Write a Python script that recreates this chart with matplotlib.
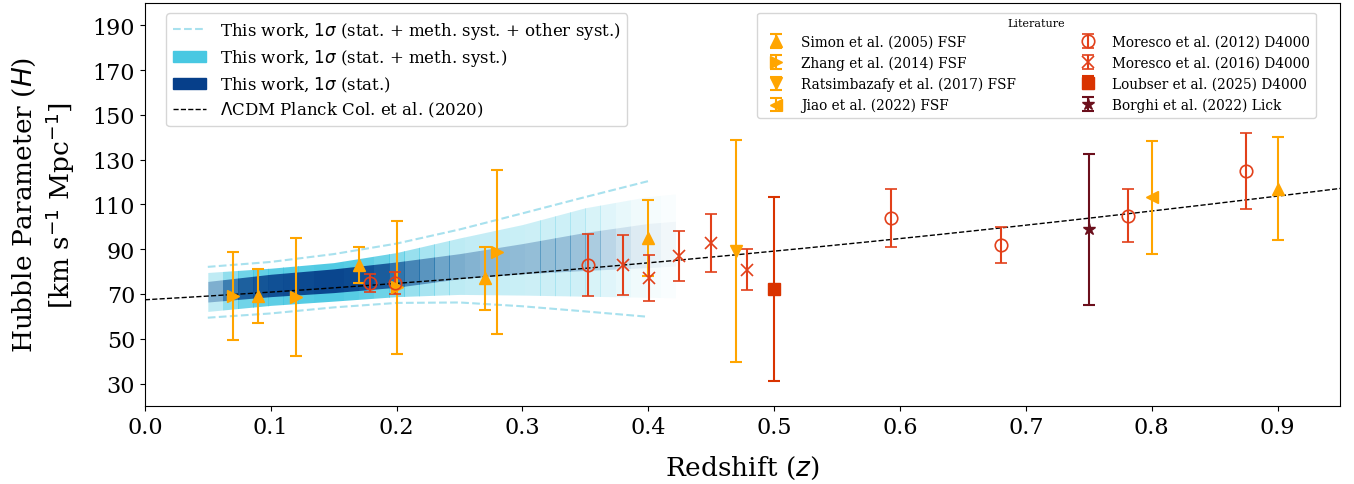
"""
H(z) compilation: this work (banded) vs literature cosmic-chronometer points
"""

import numpy as np
import matplotlib.pyplot as plt
from matplotlib.lines import Line2D
from matplotlib.patches import Patch, Rectangle

plt.rcParams['font.family'] = 'DejaVu Serif'
plt.rcParams['mathtext.fontset'] = 'dejavusans'

# --- this work: 1 sigma envelopes ---
z_band = [0.05, 0.10, 0.15, 0.20, 0.25, 0.30, 0.35, 0.40, 0.422]
stat_hi = [75.6, 78.8, 81.2, 84.3, 88.0, 92.5, 97.5, 101.5, 102.5]
stat_lo = [66.4, 68.8, 70.6, 73.0, 76.8, 79.0, 80.5, 81.8, 82.5]
meth_hi = [79.6, 81.5, 84.0, 88.5, 95.0, 101.0, 108.5, 113.5, 114.7]
meth_lo = [62.2, 64.9, 66.8, 68.8, 69.8, 69.5, 69.0, 68.5, 68.3]

z_tot = [0.05, 0.10, 0.15, 0.20, 0.25, 0.30, 0.35, 0.40]
tot_hi = [82.1, 84.3, 87.8, 92.5, 98.8, 106.0, 113.3, 120.4]
tot_lo = [59.4, 61.3, 64.0, 66.0, 66.2, 64.5, 62.2, 59.8]

# opacity of each redshift slice of the band (slices of width 0.012 from z=0.05)
seg_alpha = [0.35, 0.6, 0.78, 0.85, 0.88, 0.9, 0.92, 0.95, 0.95, 0.92,
             0.88, 0.8, 0.66, 0.56, 0.48, 0.4, 0.36, 0.33, 0.31, 0.3,
             0.29, 0.28, 0.28, 0.27, 0.26, 0.21, 0.17, 0.12, 0.08, 0.05, 0.03]

# --- literature ---
simon_z = [0.09, 0.17, 0.27, 0.40, 0.90]
simon_H = [69, 83, 77, 95, 117]
simon_e = [12, 8, 14, 17, 23]

zhang_z = [0.07, 0.12, 0.20, 0.28]
zhang_H = [69.0, 68.6, 72.9, 88.8]
zhang_e = [19.6, 26.2, 29.6, 36.6]

rats_z = [0.47]
rats_H = [89]
rats_e = [49.6]

jiao_z = [0.80]
jiao_H = [113.1]
jiao_e = [25.2]

mor12_z = [0.179, 0.199, 0.352, 0.593, 0.68, 0.781, 0.875]
mor12_H = [75, 75, 83, 104, 92, 105, 125]
mor12_e = [4, 5, 14, 13, 8, 12, 17]

mor16_z = [0.3802, 0.4004, 0.4247, 0.4497, 0.4783]
mor16_H = [83.0, 77.0, 87.1, 92.8, 80.9]
mor16_e = [13.5, 10.2, 11.2, 12.9, 9.0]

loub_z = [0.50]
loub_H = [72.1]
loub_e = [41.1]

borghi_z = [0.75]
borghi_H = [98.8]
borghi_e = [33.6]

# Planck 2020 LCDM
H0 = 67.4
Om = 0.315

cyan = '#48c8e2'
dark = '#063f8a'
light = '#a8e1ee'
orange = '#ffa500'
red = '#e2401a'
red2 = '#d93300'
maroon = '#6b0f1c'

fig, ax = plt.subplots(figsize=(13.54, 4.85), dpi=100)
fig.subplots_adjust(left=0.107, right=0.990, top=0.992, bottom=0.161)

width = 0.012
for i, a in enumerate(seg_alpha):
    z0 = 0.05 + i * width
    for lo, hi, c in [(meth_lo, meth_hi, cyan), (stat_lo, stat_hi, dark)]:
        p = ax.fill_between(z_band, lo, hi, color=c, alpha=a, lw=0, zorder=1)
        p.set_clip_path(Rectangle((z0, 0), width - 0.0004, 300,
                                  transform=ax.transData))

ax.plot(z_tot, tot_hi, ls='--', color=light, lw=1.5, zorder=2)
ax.plot(z_tot, tot_lo, ls='--', color=light, lw=1.5, zorder=2)

zz = np.linspace(0, 0.95, 200)
ax.plot(zz, H0 * np.sqrt(Om * (1 + zz) ** 3 + 1 - Om), 'k--', lw=1, zorder=3)

kw = dict(ms=9, capsize=4.5, elinewidth=1.5, capthick=1.5, zorder=4)
e1 = ax.errorbar(simon_z, simon_H, yerr=simon_e, fmt='^', color=orange,
                 label='Simon et al. (2005) FSF', **kw)
e2 = ax.errorbar(zhang_z, zhang_H, yerr=zhang_e, fmt='>', color=orange,
                 label='Zhang et al. (2014) FSF', **kw)
e3 = ax.errorbar(rats_z, rats_H, yerr=rats_e, fmt='v', color=orange,
                 label='Ratsimbazafy et al. (2017) FSF', **kw)
e4 = ax.errorbar(jiao_z, jiao_H, yerr=jiao_e, fmt='<', color=orange,
                 label='Jiao et al. (2022) FSF', **kw)
e5 = ax.errorbar(mor12_z, mor12_H, yerr=mor12_e, fmt='o', color=red,
                 mfc='none', mew=1.2, label='Moresco et al. (2012) D4000', **kw)
e6 = ax.errorbar(mor16_z, mor16_H, yerr=mor16_e, fmt='x', color=red,
                 mew=1.2, label='Moresco et al. (2016) D4000', **kw)
e7 = ax.errorbar(loub_z, loub_H, yerr=loub_e, fmt='s', color=red2,
                 label='Loubser et al. (2025) D4000', **dict(kw, ms=8))
e8 = ax.errorbar(borghi_z, borghi_H, yerr=borghi_e, fmt='*', color=maroon,
                 label='Borghi et al. (2022) Lick', **kw)

ax.set_xlim(0, 0.95)
ax.set_ylim(20, 200)
ax.set_xticks(np.arange(0, 0.95, 0.1))
ax.set_yticks(np.arange(30, 200, 20))
ax.tick_params(labelsize=16)
ax.set_xlabel('Redshift ($z$)', fontsize=19, labelpad=12)
ax.set_ylabel('Hubble Parameter ($H$)\n[km s$^{-1}$ Mpc$^{-1}$]', fontsize=19,
              labelpad=11)

work_handles = [
    Line2D([], [], ls='--', color=light, lw=1.5),
    Patch(color=cyan),
    Patch(color=dark),
    Line2D([], [], ls='--', color='k', lw=1),
]
work_labels = [
    r'This work, $1\sigma$ (stat. + meth. syst. + other syst.)',
    r'This work, $1\sigma$ (stat. + meth. syst.)',
    r'This work, $1\sigma$ (stat.)',
    r'$\Lambda$CDM Planck Col. et al. (2020)',
]
leg1 = ax.legend(work_handles, work_labels, loc='upper left',
                 bbox_to_anchor=(0.011, 0.995), fontsize=12, labelspacing=0.38)
ax.add_artist(leg1)

ax.legend(handles=[e1, e2, e3, e4, e5, e6, e7, e8], ncol=2, loc='upper right',
          bbox_to_anchor=(0.985, 0.993), fontsize=9.8, title='Literature',
          title_fontsize=8, columnspacing=4.3, labelspacing=0.5)

plt.savefig('out.png', dpi=100)
